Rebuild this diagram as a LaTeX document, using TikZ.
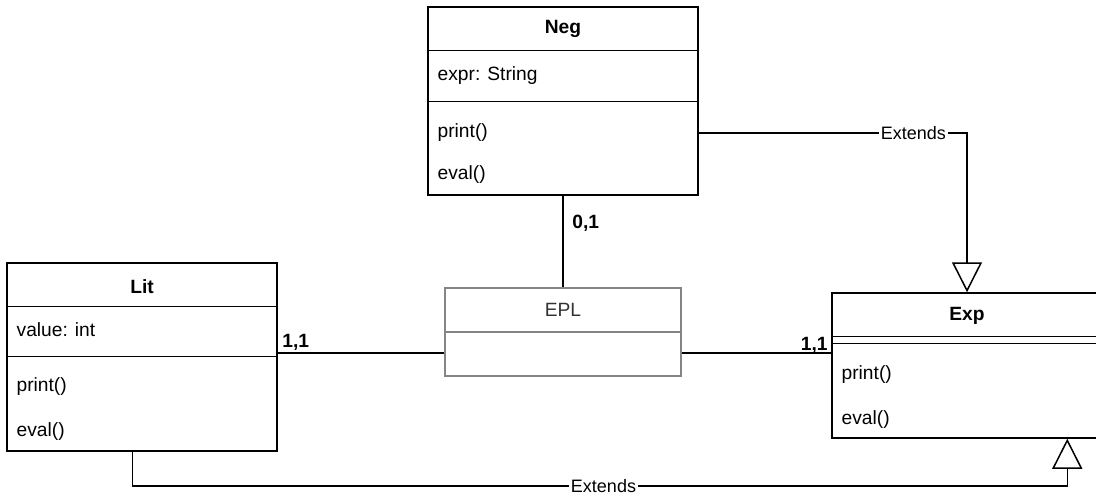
\documentclass[tikz,border=0pt]{standalone}
\usepackage{fontspec}
\setmainfont{Liberation Sans}
\usetikzlibrary{arrows.meta,positioning,calc}

\definecolor{eplline}{HTML}{858585}
\definecolor{epltext}{HTML}{333333}

\tikzset{
  classbox/.style={draw,line width=0.75pt,inner sep=0pt,minimum width=135pt},
  classname/.style={font=\fontsize{9.6pt}{11pt}\selectfont\bfseries,inner sep=0pt},
  member/.style={font=\fontsize{9.6pt}{11pt}\selectfont,anchor=west,inner sep=0pt},
  mult/.style={font=\fontsize{9.6pt}{11pt}\selectfont\bfseries,inner sep=0pt},
  assoc/.style={line width=0.75pt},
  extends/.style={line width=0.75pt,-{Triangle[open,length=15pt,width=15pt]}},
  extlabel/.style={font=\fontsize{9pt}{11pt}\selectfont,fill=white,inner xsep=1pt,inner ysep=0pt}
}

\begin{document}
\begin{tikzpicture}[x=0.5pt,y=-0.5pt]
\useasboundingbox (0,0) rectangle (1096,494);

% Neg
\node[classbox,minimum height=94pt] (neg) at (563,101) {};
\draw[line width=0.75pt] ($(neg.north west)+(0,44)$) -- ($(neg.north east)+(0,44)$);
\draw[line width=0.75pt] ($(neg.north west)+(0,95)$) -- ($(neg.north east)+(0,95)$);
\node[classname] (negname) at ($(neg.north)+(0,23)$) {Neg};
\node[member] (negexpr) at ($(neg.north west)+(10,69)$) {expr: String};
\node[member] (negprint) at ($(neg.north west)+(10,126)$) {print()};
\node[member] (negeval) at ($(neg.north west)+(10,168)$) {eval()};

% Lit
\node[classbox,minimum height=94pt] (lit) at (142,357) {};
\draw[line width=0.75pt] ($(lit.north west)+(0,44)$) -- ($(lit.north east)+(0,44)$);
\draw[line width=0.75pt] ($(lit.north west)+(0,94)$) -- ($(lit.north east)+(0,94)$);
\node[classname] (litname) at ($(lit.north)+(0,24)$) {Lit};
\node[member] (litvalue) at ($(lit.north west)+(10,67)$) {value: int};
\node[member] (litprint) at ($(lit.north west)+(10,124)$) {print()};
\node[member] (liteval) at ($(lit.north west)+(10,169)$) {eval()};

% Exp
\node[classbox,minimum height=72.5pt] (exp) at (967,365.5) {};
\draw[line width=0.75pt] ($(exp.north west)+(0,44)$) -- ($(exp.north east)+(0,44)$);
\draw[line width=0.75pt] ($(exp.north west)+(0,51)$) -- ($(exp.north east)+(0,51)$);
\node[classname] (expname) at ($(exp.north)+(0,24)$) {Exp};
\node[member] (expprint) at ($(exp.north west)+(10,82)$) {print()};
\node[member] (expeval) at ($(exp.north west)+(10,127)$) {eval()};

% EPL
\node[draw=eplline,line width=0.75pt,inner sep=0pt,minimum width=118pt,minimum height=44pt] (epl) at (563,332) {};
\draw[eplline,line width=0.75pt] (epl.west) -- (epl.east);
\node[font=\fontsize{9.6pt}{11pt}\selectfont,text=epltext,inner sep=0pt] (eplname) at ($(epl.north)+(0,23)$) {EPL};

% associations
\coordinate (row) at (0,353);
\draw[assoc] (neg.south) -- (epl.north);
\node[mult,anchor=base west] (m01) at (572,228) {0,1};
\draw[assoc] (lit.east |- row) -- (epl.west |- row);
\node[mult,anchor=base west] (m11a) at (282,347) {1,1};
\draw[assoc] (epl.east |- row) -- (exp.west |- row);
\node[mult,anchor=base east] (m11b) at (828,350) {1,1};

% generalisations
\coordinate (toprow) at (0,133);
\draw[extends] (neg.east |- toprow) -| node[extlabel,pos=0.4] (ext1) {Extends} (exp.north);
\coordinate (litfoot) at ($(lit.south west)+(126,0)$);
\coordinate (expfoot) at ($(exp.south west)+(236,0)$);
\draw[extends] (litfoot) -- ++(0,34) -| node[extlabel,pos=0.252] (ext2) {Extends} (expfoot);
\end{tikzpicture}
\end{document}
